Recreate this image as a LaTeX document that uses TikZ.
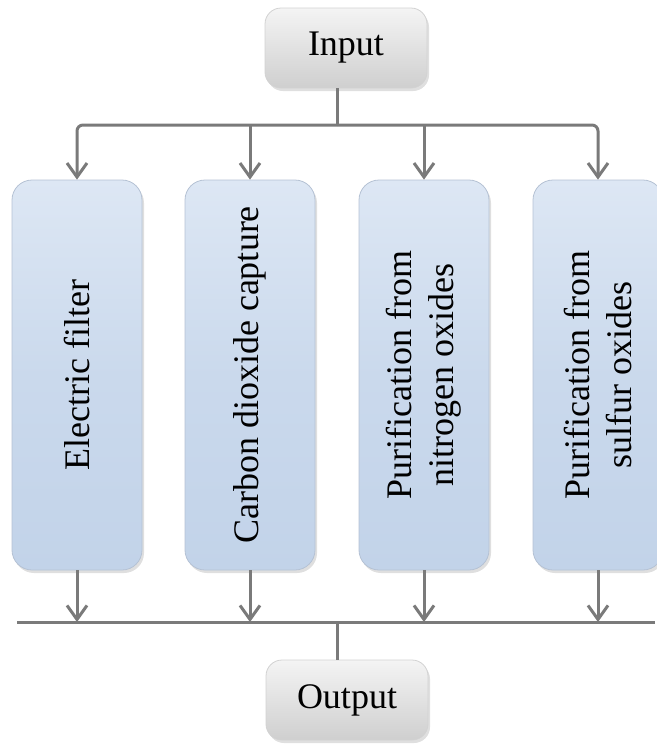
\documentclass[tikz,border=0pt]{standalone}
\usepackage{fontspec}
\setmainfont{Liberation Serif}
\usetikzlibrary{arrows.meta,shadows}

\definecolor{wire}{HTML}{7A7A7A}
\definecolor{stagetop}{HTML}{DDE7F4}
\definecolor{stagebot}{HTML}{C2D3E9}
\definecolor{keytop}{HTML}{F4F4F4}
\definecolor{keybot}{HTML}{CFCFCF}

\tikzset{
  keybox/.style={draw=gray!35, rounded corners=8pt, top color=keytop, bottom color=keybot,
    minimum width=81pt, minimum height=40pt, font=\fontsize{18}{21}\selectfont,
    drop shadow={opacity=0.25, shadow xshift=1pt, shadow yshift=-1.5pt}},
  stagebox/.style={draw=stagebot!80!gray, rounded corners=10pt, rotate=90,
    top color=stagetop, bottom color=stagebot, middle color=stagebot!70!stagetop, align=center,
    minimum width=195pt, minimum height=65pt, font=\fontsize{18}{21}\selectfont,
    drop shadow={opacity=0.25, shadow xshift=1pt, shadow yshift=-1.5pt}},
  wireline/.style={draw=wire, line width=1.5pt},
  flow/.style={wireline, -{Straight Barb[length=7pt,width=10pt]}}
}

\begin{document}
\begin{tikzpicture}[x=0.5pt, y=-0.5pt]
    \useasboundingbox (0,0) rectangle (657,746);
    \node[keybox](in) at (346,48){Input};
    \node[stagebox](s1) at (77,375){Electric filter};
    \node[stagebox](s2) at (250,375){Carbon dioxide capture};
    \node[stagebox](s3) at (424,375){Purification from\\nitrogen oxides};
    \node[stagebox](s4) at (598,375){Purification from\\sulfur oxides};
    \node[keybox](out) at (347,700){Output};
    \coordinate (topbus) at (337,125);
    \coordinate (botbus) at (337,622);
    \coordinate (busleft) at (17,622);
    \coordinate (busright) at (655,622);
    % distribution
    \draw[wireline] (in.south -| topbus) -- (topbus);
    \draw[flow, rounded corners=3pt] (topbus) -| (s1);
    \draw[flow, rounded corners=3pt] (topbus) -| (s4);
    \draw[flow] (topbus -| s2) -- (s2);
    \draw[flow] (topbus -| s3) -- (s3);
    % collection
    \draw[flow] (s1) -- (s1 |- botbus);
    \draw[flow] (s2) -- (s2 |- botbus);
    \draw[flow] (s3) -- (s3 |- botbus);
    \draw[flow] (s4) -- (s4 |- botbus);
    \draw[wireline] (busleft) -- (busright);
    \draw[wireline] (botbus) -- (out.north -| botbus);
\end{tikzpicture}
\end{document}
